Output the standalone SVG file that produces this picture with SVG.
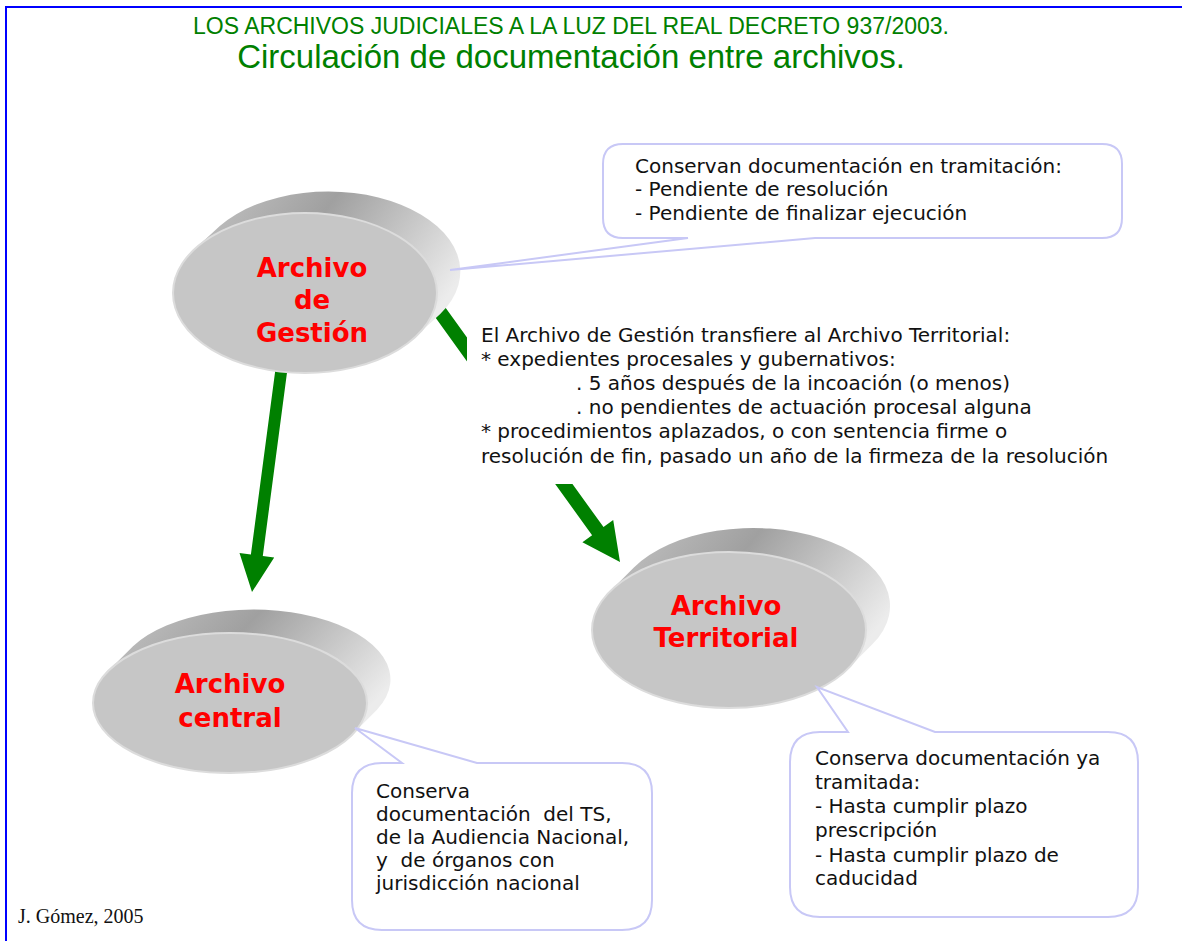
<svg xmlns="http://www.w3.org/2000/svg" width="1182" height="941" viewBox="0 0 1182 941">
<defs>
<linearGradient id="side" x1="0" y1="0.2" x2="1" y2="0.6">
<stop offset="0" stop-color="#c0c0c0"/>
<stop offset="0.4" stop-color="#a0a0a0"/>
<stop offset="1" stop-color="#ececec"/>
</linearGradient>
<style>
.title{font-family:"Liberation Sans",Arial,sans-serif;fill:#008000;text-anchor:middle}
.front{fill:#c6c6c6;stroke:#dcdcdc;stroke-width:2}
.sidep{fill:url(#side)}
.lbl{font-family:"DejaVu Sans",Verdana,sans-serif;font-weight:bold;font-size:26px;fill:#ff0000;text-anchor:middle}
.body{font-family:"DejaVu Sans",Verdana,sans-serif;font-size:20px;fill:#111;white-space:pre}
.callout{fill:#ffffff;stroke:#c8c8f6;stroke-width:2}
.arrow{fill:#008000}
</style>
</defs>
<rect x="0" y="0" width="1182" height="941" fill="#ffffff"/>
<rect x="6" y="7" width="1200" height="960" fill="none" stroke="#0000ff" stroke-width="2"/>

<g id="title">
<text class="title" x="571" y="34" font-size="23">LOS ARCHIVOS JUDICIALES A LA LUZ DEL REAL DECRETO 937/2003.</text>
<text class="title" x="571" y="68" font-size="33">Circulación de documentación entre archivos.</text>
</g>

<g id="connectors">
<polygon class="arrow" points="276.1,364.2 287.9,365.8 262.8,556.1 274.2,557.6 252,592 239.5,553.0 250.9,554.5"/>
<polygon class="arrow" points="435.7,293.9 603.5,527.1 613.2,520.1 620,562 582.4,542.3 592.1,535.3 424.3,302.1"/>
</g>

<g id="archivo-gestion">
<path class="sidep" d="M194.8,249 L219.8,226 A132,80 0 0 1 440.2,314 L415.2,337 Z"/>
<ellipse class="front" cx="305" cy="293" rx="132" ry="80"/>
<text class="lbl" x="312" y="277">Archivo</text>
<text class="lbl" x="312" y="309">de</text>
<text class="lbl" x="312" y="342">Gestión</text>
</g>

<g id="archivo-central">
<path class="sidep" d="M108,671.2 L133,646.2 A137,70 0 0 1 377,709.8 L352,734.8 Z"/>
<ellipse class="front" cx="230" cy="703" rx="137" ry="70"/>
<text class="lbl" x="230" y="693">Archivo</text>
<text class="lbl" x="230" y="727">central</text>
</g>

<g id="archivo-territorial">
<path class="sidep" d="M609.9,591.4 L633.9,567.4 A137,78 0 0 1 872.1,644.6 L848.1,668.6 Z"/>
<ellipse class="front" cx="729" cy="630" rx="137" ry="78"/>
<text class="lbl" x="726" y="615">Archivo</text>
<text class="lbl" x="726" y="647">Territorial</text>
</g>

<g id="nota-gestion">
<path class="callout" d="M623,144 H1102 Q1122,144 1122,164 V218 Q1122,238 1102,238 H815 L450,270 L688,238 H623 Q603,238 603,218 V164 Q603,144 623,144 Z"/>
<text class="body" x="635" y="173">Conservan documentación en tramitación:</text>
<text class="body" x="635" y="196">- Pendiente de resolución</text>
<text class="body" x="635" y="220">- Pendiente de finalizar ejecución</text>
</g>

<g id="transferencia">
<rect x="467" y="318" width="650" height="166" fill="#ffffff"/>
<text class="body" x="481" y="342">El Archivo de Gestión transfiere al Archivo Territorial:</text>
<text class="body" x="481" y="366">* expedientes procesales y gubernativos:</text>
<text class="body" x="576" y="390">. 5 años después de la incoación (o menos)</text>
<text class="body" x="576" y="414">. no pendientes de actuación procesal alguna</text>
<text class="body" x="481" y="438">* procedimientos aplazados, o con sentencia firme o</text>
<text class="body" x="481" y="463">resolución de fin, pasado un año de la firmeza de la resolución</text>
</g>

<g id="nota-central">
<path class="callout" d="M382,763 H402 L355,728 L477,763 H622 Q652,763 652,793 V900 Q652,930 622,930 H382 Q352,930 352,900 V793 Q352,763 382,763 Z"/>
<text class="body" x="376" y="798">Conserva</text>
<text class="body" x="376" y="821">documentación  del TS,</text>
<text class="body" x="376" y="844">de la Audiencia Nacional,</text>
<text class="body" x="376" y="867">y  de órganos con</text>
<text class="body" x="376" y="890">jurisdicción nacional</text>
</g>

<g id="nota-territorial">
<path class="callout" d="M820,732 H848 L817,687 L935,732 H1108 Q1138,732 1138,762 V887 Q1138,917 1108,917 H820 Q790,917 790,887 V762 Q790,732 820,732 Z"/>
<text class="body" x="815" y="765">Conserva documentación ya</text>
<text class="body" x="815" y="789">tramitada:</text>
<text class="body" x="815" y="813">- Hasta cumplir plazo</text>
<text class="body" x="815" y="837">prescripción</text>
<text class="body" x="815" y="862">- Hasta cumplir plazo de</text>
<text class="body" x="815" y="885">caducidad</text>
</g>

<g id="autor">
<text x="18" y="923" font-family="'Liberation Serif','Times New Roman',serif" font-size="20" fill="#111">J. Gómez, 2005</text>
</g>
</svg>
